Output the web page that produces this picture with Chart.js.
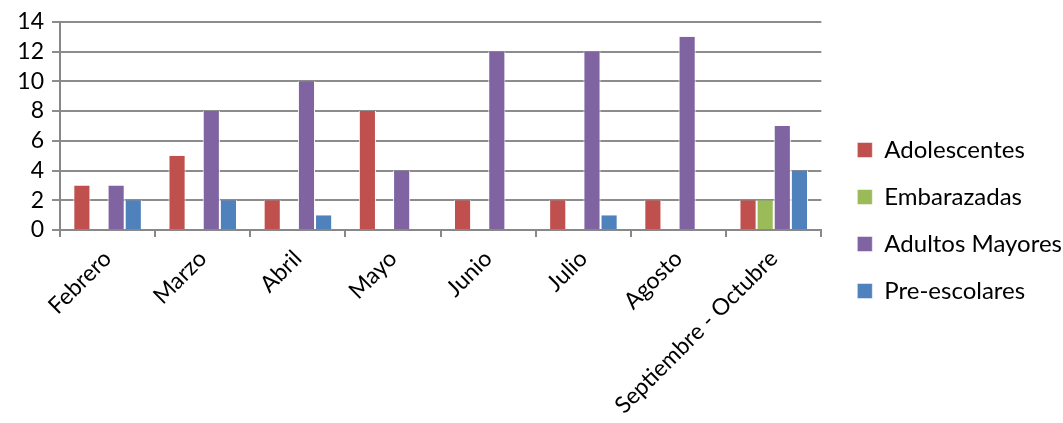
<!DOCTYPE html>
<html><head><meta charset="utf-8">
<script src="https://cdn.jsdelivr.net/npm/chart.js@4/dist/chart.umd.min.js"></script>
<style>html,body{margin:0;padding:0;background:#fff}#w{width:1063px;height:423px}</style>
</head><body><div id="w"><canvas id="c" width="1063" height="423"></canvas></div>
<script>
const categories = ["Febrero","Marzo","Abril","Mayo","Junio","Julio","Agosto","Septiembre - Octubre"];
const adolescentes = [3,5,2,8,2,2,2,2];
const embarazadas = [null,null,null,null,null,null,null,2];
const adultosMayores = [3,8,10,4,12,12,13,7];
const preescolares = [2,2,1,null,null,1,null,4];
const yTicks = [0,2,4,6,8,10,12,14];

const FONT = "Lato, 'Open Sans', sans-serif";
const ds = (label, data, color) => ({label, data, backgroundColor: color, borderColor: '#ffffff', borderWidth: {left:1,right:1,top:0,bottom:0}, borderSkipped: 'bottom'});
const legendShift = {
  id: 'legendShift',
  afterLayout(chart) { if (chart.legend) { chart.legend.left += 13; chart.legend.right += 13; } }
};
new Chart(document.getElementById('c'), {
  type: 'bar',
  data: {
    labels: categories,
    datasets: [
      ds('Adolescentes', adolescentes, '#C0504D'),
      ds('Embarazadas', embarazadas, '#9BBB59'),
      ds('Adultos Mayores', adultosMayores, '#8064A2'),
      ds('Pre-escolares', preescolares, '#4F81BD')
    ]
  },
  plugins: [legendShift],
  options: {
    responsive: false,
    animation: false,
    devicePixelRatio: 1,
    layout: {padding: {left: 0, right: 4, top: 18, bottom: 0}},
    datasets: {bar: {categoryPercentage: 0.72, barPercentage: 1, skipNull: false}},
    plugins: {
      legend: {
        position: 'right',
        align: 'center',
        labels: {font: {family: FONT, size: 24}, color: '#000', boxWidth: 15, boxHeight: 15, padding: 23}
      },
      tooltip: {enabled: false}
    },
    scales: {
      x: {
        afterFit: (s) => { s.height = 193; },
        grid: {offset: true, drawOnChartArea: false, drawTicks: true, tickLength: 7, color: '#888', lineWidth: 2},
        border: {color: '#888', width: 2},
        ticks: {font: {family: FONT, size: 23}, color: '#000', maxRotation: 45, minRotation: 45, padding: 8, autoSkip: false}
      },
      y: {
        min: 0, max: 14,
        afterFit: (s) => { s.width = 60; },
        afterBuildTicks: (s) => { s.ticks = yTicks.map(v => ({value: v})); },
        grid: {color: '#8c8c8c', lineWidth: 2, tickLength: 8},
        border: {color: '#888', width: 2},
        ticks: {font: {family: FONT, size: 23}, color: '#000', padding: 8, autoSkip: false}
      }
    }
  }
});
</script></body></html>
